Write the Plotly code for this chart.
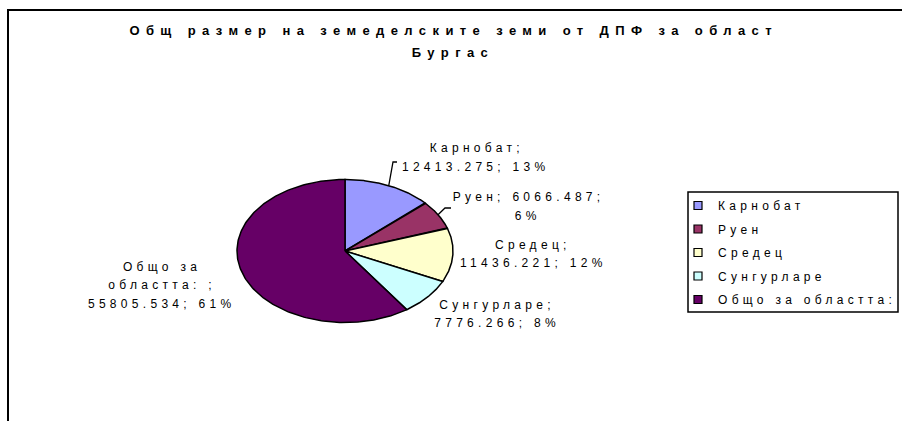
import numpy as np
import plotly.graph_objects as go

# ---------------- data ----------------
categories = ["Карнобат", "Руен", "Средец", "Сунгурларе", "Общо за областта: "]
values = [12413.275, 6066.487, 11436.221, 7776.266, 55805.534]
percent_labels = ["13%", "6%", "12%", "8%", "61%"]
title_lines = ["Общ размер на земеделските земи от ДПФ за област", "Бургас"]

# ---------------- style / layout ----------------
colors = ["#9999FF", "#993366", "#FFFFCC", "#CCFFFF", "#660066"]
W, H = 902, 421
cx, cy, rx, ry = 345, 251, 108, 71.5          # ellipse (pixel space)
FONT = "Liberation Sans, Arial, sans-serif"
LABEL_SIZE, LABEL_SPACING = 12, 4.3
TITLE_SIZE, TITLE_SPACING = 13, 6.4
# words per line for each data label
label_wrap = [[1, 2], [2, 1], [1, 2], [1, 2], [2, 2, 2]]
label_centers = [(474, 157.5), (526, 206.5), (531, 254), (495, 314), (160, 285)]
label_lh = 18.5
# leader lines: (elbow x, elbow y, end x)
leaders = {0: (393, 162, 397), 1: (445, 208, 451)}

fig = go.Figure()

total = float(np.sum(values))
cum = np.concatenate([[0.0], np.cumsum(values)]) / total * 2 * np.pi

for i, cat in enumerate(categories):
    t = np.linspace(cum[i], cum[i + 1], 200)
    xs = np.concatenate([[cx], cx + rx * np.sin(t), [cx]])
    ys = np.concatenate([[cy], cy - ry * np.cos(t), [cy]])
    fig.add_trace(go.Scatter(
        x=xs, y=ys, mode="lines", fill="toself", fillcolor=colors[i],
        line=dict(color="black", width=1.5), showlegend=False, hoverinfo="skip"))

# legend entries (square swatches)
for i, cat in enumerate(categories):
    fig.add_trace(go.Scatter(
        x=[None], y=[None], mode="markers", name=cat.strip(), legendgroup=f"g{i}",
        marker=dict(symbol="square", size=8, color=colors[i],
                    line=dict(color="black", width=1.2))))

# leader lines
for i, (ex, ey, endx) in leaders.items():
    mid = (cum[i] + cum[i + 1]) / 2
    px, py = cx + rx * np.sin(mid), cy - ry * np.cos(mid)
    fig.add_trace(go.Scatter(x=[px, ex, endx], y=[py, ey, ey], mode="lines",
                             line=dict(color="black", width=1.3),
                             showlegend=False, hoverinfo="skip"))

# data labels
annotations = []
for i, cat in enumerate(categories):
    words = f"{cat}; {values[i]:.3f}; {percent_labels[i]}".split()
    lines, k = [], 0
    for n in label_wrap[i]:
        lines.append(" ".join(words[k:k + n]))
        k += n
    lx, ly = label_centers[i]
    nl = len(lines)
    for j, ln in enumerate(lines):
        annotations.append(dict(
            x=lx + LABEL_SPACING / 2, y=ly + (j - (nl - 1) / 2) * label_lh,
            xref="x", yref="y",
            text=ln, showarrow=False, xanchor="center", yanchor="middle",
            font=dict(family=FONT, size=LABEL_SIZE, color="black")))

# title
for j, tl in enumerate(title_lines):
    annotations.append(dict(
        x=450 + TITLE_SPACING / 2, y=30 + j * 22, xref="x", yref="y",
        text=f"<b>{tl}</b>",
        showarrow=False, xanchor="center", yanchor="middle",
        font=dict(family=FONT, size=TITLE_SIZE, color="black")))

shapes = [
    # chart area border
    dict(type="rect", xref="x", yref="y", x0=8, y0=10, x1=W + 10, y1=H + 10,
         line=dict(color="black", width=2), layer="below"),
    # legend border
    dict(type="rect", xref="x", yref="y", x0=688, y0=192, x1=898, y1=312,
         line=dict(color="black", width=1.5), layer="below"),
]

fig.update_layout(
    width=W, height=H, margin=dict(l=0, r=0, t=0, b=0),
    paper_bgcolor="white", plot_bgcolor="white",
    xaxis=dict(range=[0, W], visible=False, fixedrange=True),
    yaxis=dict(range=[H, 0], visible=False, fixedrange=True),
    showlegend=True,
    legend=dict(x=678 / W, y=1 - 191 / H, xanchor="left", yanchor="top",
                bgcolor="rgba(0,0,0,0)", borderwidth=0, tracegroupgap=4.5,
                font=dict(family=FONT, size=LABEL_SIZE, color="black"),
                itemclick=False, itemdoubleclick=False),
    annotations=annotations, shapes=shapes,
)

post = """
document.body.style.margin = '0';
document.querySelectorAll('.annotation-text').forEach(function(t){
  var fs = parseFloat(t.style.fontSize || '0');
  t.style.letterSpacing = (fs >= %d ? '%spx' : '%spx');
});
document.querySelectorAll('.legendtext').forEach(function(t){t.style.letterSpacing='%spx';});
document.querySelectorAll('.legend, .legend [clip-path]').forEach(function(e){e.removeAttribute('clip-path');});
""" % (TITLE_SIZE, TITLE_SPACING, LABEL_SPACING, LABEL_SPACING)

fig.write_html("out.html", post_script=post, config={"staticPlot": True})
